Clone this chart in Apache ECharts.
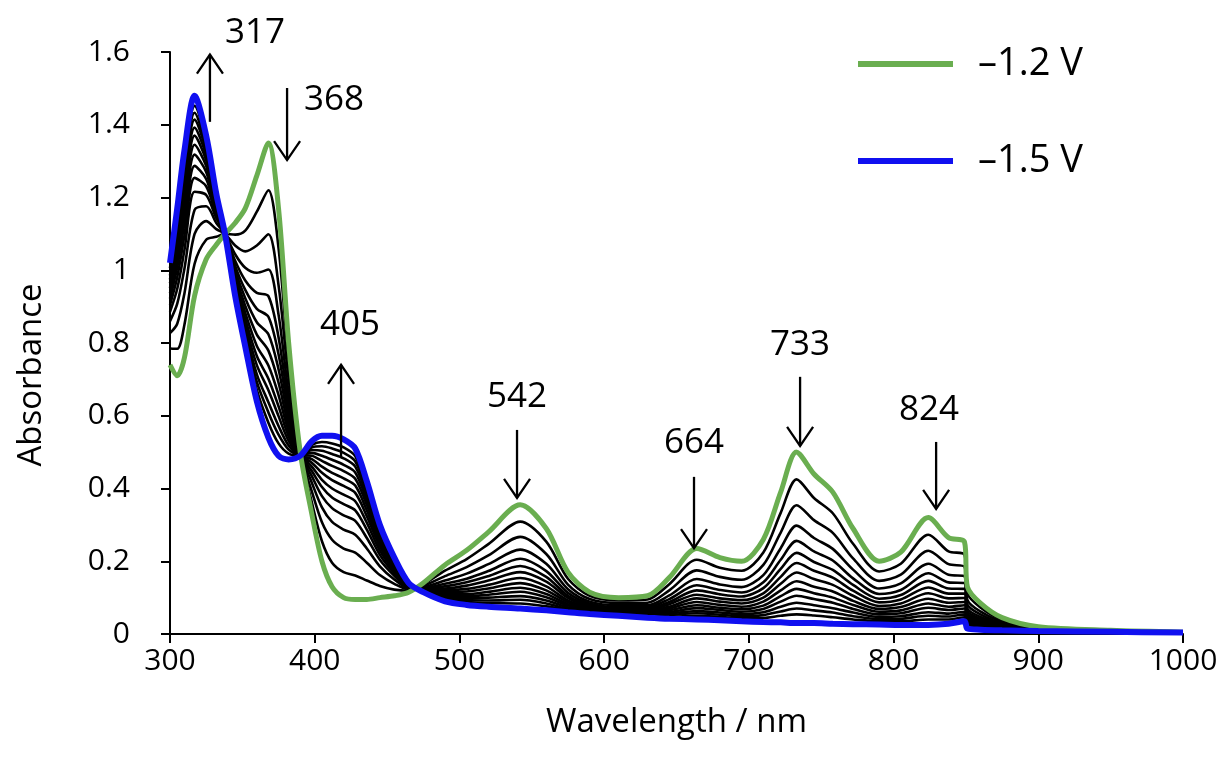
<!DOCTYPE html>
<html>
<head>
<meta charset="utf-8">
<script src="https://cdn.jsdelivr.net/npm/echarts@6/dist/echarts.min.js"></script>
<style>
  html, body { margin: 0; padding: 0; background: #fff; }
  #chart { width: 1226px; height: 774px; }
</style>
</head>
<body>
<div id="chart"></div>
<script>
// Wavelengths (nm) shared by every spectrum
const wavelength = [300, 305, 310, 317, 325, 332, 338, 345, 352, 360,
  368, 375, 382, 390, 398, 405, 412, 420, 428, 436,
  445, 455, 465, 475, 490, 505, 520, 542, 560, 575,
  590, 610, 630, 645, 664, 680, 695, 710, 722, 733,
  745, 758, 772, 790, 805, 824, 838, 849, 851, 860,
  875, 900, 950, 1000];

// Spectrum held at −1.2 V
const absAt12V = [0.74, 0.71, 0.76, 0.93, 1.03, 1.07, 1.10, 1.13, 1.17, 1.26,
  1.35, 1.17, 0.80, 0.50, 0.33, 0.20, 0.13, 0.10, 0.095, 0.095,
  0.10, 0.105, 0.115, 0.14, 0.19, 0.23, 0.28, 0.355, 0.29, 0.17,
  0.115, 0.10, 0.105, 0.155, 0.235, 0.21, 0.20, 0.26, 0.39, 0.50,
  0.44, 0.39, 0.29, 0.20, 0.225, 0.32, 0.265, 0.253, 0.13, 0.085,
  0.045, 0.02, 0.01, 0.005];

// Spectrum held at −1.5 V
const absAt15V = [1.02, 1.17, 1.33, 1.48, 1.37, 1.21, 1.10, 0.93, 0.79, 0.64,
  0.54, 0.49, 0.48, 0.49, 0.53, 0.545, 0.545, 0.535, 0.51, 0.42,
  0.30, 0.21, 0.14, 0.115, 0.09, 0.08, 0.075, 0.07, 0.065, 0.06,
  0.055, 0.05, 0.045, 0.042, 0.04, 0.038, 0.035, 0.033, 0.032, 0.03,
  0.03, 0.028, 0.027, 0.026, 0.025, 0.025, 0.028, 0.035, 0.015, 0.012,
  0.01, 0.008, 0.006, 0.004];

// Spectra recorded during the electrolysis, in order
const scan01 = [0.785, 0.784, 0.851, 1.018, 1.084, 1.092, 1.10, 1.098, 1.109, 1.161,
  1.220, 1.061, 0.749, 0.498, 0.362, 0.255, 0.196, 0.170, 0.161, 0.147,
  0.132, 0.122, 0.119, 0.136, 0.174, 0.206, 0.247, 0.309, 0.254, 0.152,
  0.105, 0.092, 0.095, 0.137, 0.204, 0.182, 0.174, 0.224, 0.333, 0.425,
  0.374, 0.332, 0.248, 0.172, 0.193, 0.273, 0.227, 0.218, 0.112, 0.073,
  0.039, 0.018, 0.009, 0.005];
const scan02 = [0.827, 0.853, 0.937, 1.100, 1.135, 1.113, 1.10, 1.068, 1.052, 1.068,
  1.099, 0.959, 0.701, 0.497, 0.392, 0.307, 0.259, 0.235, 0.224, 0.196,
  0.162, 0.138, 0.123, 0.132, 0.159, 0.184, 0.216, 0.267, 0.220, 0.136,
  0.096, 0.085, 0.086, 0.120, 0.175, 0.157, 0.149, 0.190, 0.279, 0.354,
  0.313, 0.278, 0.208, 0.146, 0.163, 0.229, 0.192, 0.185, 0.094, 0.062,
  0.034, 0.016, 0.009, 0.005];
const scan03 = [0.860, 0.908, 1.005, 1.166, 1.176, 1.130, 1.10, 1.044, 1.007, 0.993,
  1.002, 0.878, 0.662, 0.496, 0.416, 0.348, 0.308, 0.287, 0.273, 0.235,
  0.186, 0.150, 0.126, 0.129, 0.147, 0.166, 0.192, 0.232, 0.193, 0.123,
  0.089, 0.079, 0.079, 0.106, 0.151, 0.136, 0.129, 0.162, 0.236, 0.298,
  0.264, 0.234, 0.177, 0.125, 0.139, 0.193, 0.163, 0.159, 0.081, 0.054,
  0.030, 0.015, 0.008, 0.005];
const scan04 = [0.886, 0.949, 1.056, 1.216, 1.207, 1.143, 1.10, 1.026, 0.972, 0.938,
  0.929, 0.816, 0.634, 0.495, 0.434, 0.379, 0.346, 0.326, 0.311, 0.264,
  0.204, 0.160, 0.128, 0.127, 0.138, 0.152, 0.173, 0.207, 0.173, 0.113,
  0.084, 0.074, 0.074, 0.096, 0.134, 0.121, 0.114, 0.142, 0.204, 0.256,
  0.227, 0.202, 0.153, 0.110, 0.121, 0.167, 0.142, 0.140, 0.070, 0.047,
  0.027, 0.014, 0.008, 0.004];
const scan05 = [0.905, 0.981, 1.096, 1.254, 1.231, 1.153, 1.10, 1.012, 0.946, 0.894,
  0.872, 0.769, 0.611, 0.494, 0.448, 0.404, 0.375, 0.357, 0.340, 0.287,
  0.218, 0.167, 0.130, 0.125, 0.131, 0.142, 0.159, 0.187, 0.157, 0.105,
  0.080, 0.071, 0.070, 0.088, 0.120, 0.109, 0.103, 0.126, 0.179, 0.223,
  0.198, 0.176, 0.135, 0.097, 0.107, 0.146, 0.125, 0.124, 0.062, 0.042,
  0.024, 0.013, 0.008, 0.004];
const scan06 = [0.922, 1.009, 1.130, 1.287, 1.251, 1.161, 1.10, 1.000, 0.923, 0.857,
  0.824, 0.728, 0.592, 0.494, 0.460, 0.424, 0.400, 0.383, 0.365, 0.306,
  0.230, 0.173, 0.131, 0.124, 0.125, 0.133, 0.147, 0.170, 0.144, 0.099,
  0.076, 0.068, 0.066, 0.082, 0.108, 0.098, 0.093, 0.112, 0.157, 0.195,
  0.174, 0.155, 0.119, 0.087, 0.095, 0.128, 0.111, 0.111, 0.055, 0.038,
  0.022, 0.012, 0.007, 0.004];
const scan07 = [0.937, 1.034, 1.162, 1.318, 1.270, 1.169, 1.10, 0.989, 0.902, 0.823,
  0.779, 0.691, 0.574, 0.493, 0.471, 0.443, 0.423, 0.407, 0.388, 0.324,
  0.241, 0.179, 0.133, 0.122, 0.120, 0.124, 0.135, 0.154, 0.131, 0.092,
  0.073, 0.065, 0.063, 0.075, 0.098, 0.089, 0.084, 0.100, 0.138, 0.169,
  0.151, 0.135, 0.105, 0.077, 0.084, 0.112, 0.098, 0.099, 0.049, 0.034,
  0.020, 0.012, 0.007, 0.004];
const scan08 = [0.951, 1.057, 1.190, 1.345, 1.287, 1.176, 1.10, 0.979, 0.883, 0.792,
  0.738, 0.657, 0.558, 0.492, 0.481, 0.460, 0.443, 0.428, 0.408, 0.340,
  0.251, 0.184, 0.134, 0.121, 0.115, 0.117, 0.125, 0.140, 0.120, 0.087,
  0.070, 0.062, 0.060, 0.070, 0.088, 0.080, 0.075, 0.089, 0.120, 0.145,
  0.130, 0.117, 0.091, 0.069, 0.074, 0.097, 0.086, 0.088, 0.043, 0.030,
  0.019, 0.011, 0.007, 0.004];
const scan09 = [0.964, 1.078, 1.216, 1.370, 1.302, 1.182, 1.10, 0.970, 0.866, 0.764,
  0.702, 0.626, 0.544, 0.492, 0.490, 0.476, 0.462, 0.448, 0.427, 0.355,
  0.260, 0.189, 0.135, 0.120, 0.110, 0.110, 0.116, 0.127, 0.110, 0.082,
  0.067, 0.060, 0.057, 0.065, 0.079, 0.072, 0.068, 0.078, 0.104, 0.124,
  0.112, 0.100, 0.080, 0.061, 0.065, 0.084, 0.075, 0.079, 0.038, 0.027,
  0.017, 0.010, 0.007, 0.004];
const scan10 = [0.975, 1.096, 1.239, 1.392, 1.316, 1.188, 1.10, 0.962, 0.851, 0.739,
  0.670, 0.599, 0.531, 0.492, 0.498, 0.490, 0.479, 0.465, 0.444, 0.368,
  0.268, 0.193, 0.136, 0.119, 0.106, 0.104, 0.108, 0.116, 0.101, 0.078,
  0.065, 0.058, 0.055, 0.060, 0.071, 0.066, 0.061, 0.069, 0.089, 0.105,
  0.096, 0.086, 0.069, 0.054, 0.057, 0.072, 0.066, 0.070, 0.033, 0.024,
  0.016, 0.010, 0.007, 0.004];
const scan11 = [0.986, 1.115, 1.262, 1.414, 1.329, 1.193, 1.10, 0.954, 0.836, 0.714,
  0.637, 0.572, 0.518, 0.491, 0.506, 0.504, 0.495, 0.483, 0.460, 0.381,
  0.276, 0.197, 0.137, 0.118, 0.102, 0.098, 0.100, 0.104, 0.092, 0.073,
  0.062, 0.056, 0.052, 0.056, 0.063, 0.059, 0.055, 0.060, 0.075, 0.086,
  0.079, 0.071, 0.059, 0.047, 0.049, 0.060, 0.056, 0.061, 0.029, 0.021,
  0.014, 0.009, 0.006, 0.004];
const scan12 = [0.996, 1.131, 1.282, 1.433, 1.341, 1.198, 1.10, 0.947, 0.822, 0.693,
  0.609, 0.548, 0.507, 0.491, 0.513, 0.516, 0.510, 0.498, 0.475, 0.392,
  0.283, 0.201, 0.138, 0.117, 0.099, 0.093, 0.092, 0.094, 0.084, 0.069,
  0.060, 0.054, 0.050, 0.052, 0.057, 0.053, 0.049, 0.052, 0.062, 0.070,
  0.065, 0.059, 0.049, 0.041, 0.042, 0.050, 0.048, 0.054, 0.025, 0.018,
  0.013, 0.009, 0.006, 0.004];
const scan13 = [1.006, 1.147, 1.301, 1.452, 1.353, 1.203, 1.10, 0.940, 0.809, 0.671,
  0.581, 0.524, 0.496, 0.490, 0.520, 0.528, 0.524, 0.513, 0.489, 0.404,
  0.290, 0.205, 0.139, 0.116, 0.095, 0.088, 0.085, 0.084, 0.076, 0.066,
  0.058, 0.053, 0.048, 0.048, 0.050, 0.047, 0.043, 0.044, 0.050, 0.054,
  0.051, 0.046, 0.040, 0.035, 0.035, 0.040, 0.040, 0.046, 0.021, 0.016,
  0.012, 0.009, 0.006, 0.004];
const scans = [scan01, scan02, scan03, scan04, scan05, scan06, scan07,
  scan08, scan09, scan10, scan11, scan12, scan13];

// Band labels with arrows (direction of change), in axis units
const peakMarks = [
  { label: '317', at: 327.6, from: 1.408, to: 1.593, textX: 358.7, textY: 1.652 },
  { label: '368', at: 380.9, from: 1.501, to: 1.303, textX: 413.3, textY: 1.468 },
  { label: '405', at: 418.2, from: 0.484, to: 0.740, textX: 424.4, textY: 0.849 },
  { label: '542', at: 539.8, from: 0.561, to: 0.374, textX: 539.8, textY: 0.652 },
  { label: '664', at: 662.1, from: 0.432, to: 0.236, textX: 662.1, textY: 0.525 },
  { label: '733', at: 735.4, from: 0.707, to: 0.517, textX: 735.4, textY: 0.795 },
  { label: '824', at: 829.4, from: 0.528, to: 0.344, textX: 824.5, textY: 0.616 }
];

const legendNames = ['\u20131.2 V', '\u20131.5 V'];
const FONT = '"Open Sans", "Noto Sans", sans-serif';
const GREEN = '#6aae50';
const BLUE = '#1010f0';

const pairs = (ys) => wavelength.map((w, i) => [w, ys[i]]);

const series = [];
scans.forEach((ys, k) => {
  series.push({
    name: 'scan' + (k + 1),
    type: 'line',
    data: pairs(ys),
    symbol: 'none',
    smooth: 0.3,
    silent: true,
    lineStyle: { color: '#000', width: 2.6 },
    itemStyle: { color: '#000' },
    z: 2
  });
});
series.push({
  name: legendNames[0],
  type: 'line',
  data: pairs(absAt12V),
  symbol: 'none',
  smooth: 0.3,
  color: GREEN,
  lineStyle: { color: GREEN, width: 5 },
  itemStyle: { color: GREEN },
  z: 3
});
series.push({
  name: legendNames[1],
  type: 'line',
  data: pairs(absAt15V),
  symbol: 'none',
  smooth: 0.3,
  color: BLUE,
  lineStyle: { color: BLUE, width: 6 },
  itemStyle: { color: BLUE },
  z: 4
});
series.push({
  type: 'custom',
  silent: true,
  clip: false,
  z: 5,
  data: peakMarks.map(m => [m.at, m.from]),
  encode: { x: 0, y: 1 },
  renderItem: function (params, api) {
    const m = peakMarks[params.dataIndex];
    const a = api.coord([m.at, m.from]);
    const b = api.coord([m.at, m.to]);
    const t = api.coord([m.textX, m.textY]);
    const dir = b[1] < a[1] ? 1 : -1;
    const hw = 13, hl = 19;
    return {
      type: 'group',
      children: [
        { type: 'line', shape: { x1: a[0], y1: a[1], x2: b[0], y2: b[1] },
          style: { stroke: '#000', lineWidth: 2.3 } },
        { type: 'polyline',
          shape: { points: [[b[0] - hw, b[1] + dir * hl], [b[0], b[1]], [b[0] + hw, b[1] + dir * hl]] },
          style: { stroke: '#000', lineWidth: 2.3, fill: null } },
        { type: 'text',
          style: { text: m.label, x: t[0], y: t[1], align: 'center', verticalAlign: 'middle',
                   fontSize: 35, fontFamily: FONT, fill: '#000' } }
      ]
    };
  }
});

const chart = echarts.init(document.getElementById('chart'), null, { renderer: 'canvas' });
chart.setOption({
  animation: false,
  backgroundColor: '#fff',
  grid: { left: 170, right: 43, top: 52, bottom: 140 },
  legend: {
    data: legendNames,
    orient: 'vertical',
    left: 853,
    top: 36,
    icon: 'rect',
    itemWidth: 95,
    itemHeight: 6,
    itemGap: 51,
    selectedMode: false,
    textStyle: { fontSize: 38, fontFamily: FONT, color: '#000', lineHeight: 46, padding: [0, 0, 0, 20] }
  },
  xAxis: {
    type: 'value',
    min: 300,
    max: 1000,
    interval: 100,
    name: 'Wavelength / nm',
    nameLocation: 'middle',
    nameGap: 72,
    nameTextStyle: { fontSize: 33, fontFamily: FONT, color: '#000' },
    axisLine: { lineStyle: { color: '#000', width: 2 } },
    axisTick: { show: true, inside: false, length: 9, lineStyle: { color: '#000', width: 2 } },
    axisLabel: { fontSize: 30, fontFamily: FONT, color: '#000', margin: 12,
                 formatter: (v) => String(v) },
    splitLine: { show: false }
  },
  yAxis: {
    type: 'value',
    min: 0,
    max: 1.6,
    interval: 0.2,
    name: 'Absorbance',
    nameLocation: 'middle',
    nameGap: 122,
    nameTextStyle: { fontSize: 33, fontFamily: FONT, color: '#000', padding: [0, 64, 0, 0] },
    axisLine: { show: true, lineStyle: { color: '#000', width: 2 } },
    axisTick: { show: true, inside: false, length: 9, lineStyle: { color: '#000', width: 2 } },
    axisLabel: { fontSize: 30, fontFamily: FONT, color: '#000', margin: 40 },
    splitLine: { show: false }
  },
  series: series
});
</script>
</body>
</html>
